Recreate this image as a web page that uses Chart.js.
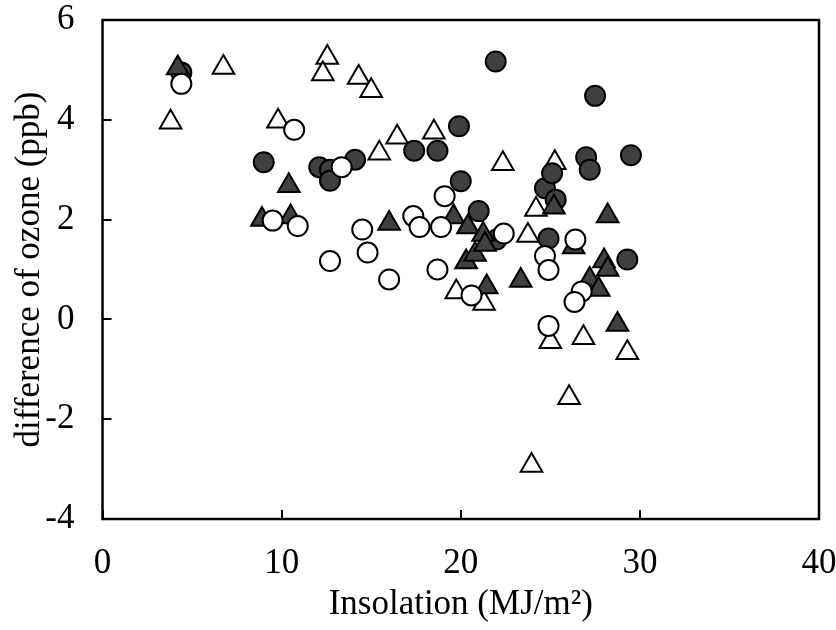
<!DOCTYPE html>
<html>
<head>
<meta charset="utf-8">
<script src="https://cdn.jsdelivr.net/npm/chart.js@4/dist/chart.umd.min.js"></script>
<style>
html,body{margin:0;padding:0;background:#fff;}
#wrap{width:836px;height:630px;}
</style>
</head>
<body>
<div id="wrap"><canvas id="c" width="836" height="630"></canvas></div>
<script>
// ---- data ----
const filledCircleX = [4.4, 9.0, 12.1, 12.7, 12.7, 14.1, 17.4, 18.7, 19.9, 20.0, 21.0, 22.0, 21.95, 24.7, 24.9, 25.1, 25.3, 27.0, 27.2, 27.5, 29.5, 29.3];
const filledCircleY = [4.95, 3.15, 3.05, 3.0, 2.78, 3.2, 3.38, 3.38, 3.87, 2.77, 2.17, 1.6, 5.17, 2.63, 1.62, 2.93, 2.4, 3.25, 3.0, 4.48, 3.29, 1.2];

const openCircleX = [4.4, 9.5, 10.7, 10.9, 12.7, 13.35, 14.5, 14.8, 16.0, 17.35, 17.7, 18.7, 18.9, 19.1, 20.6, 22.4, 24.7, 24.9, 24.9, 26.4, 26.75, 26.35];
const openCircleY = [4.72, 1.98, 3.8, 1.87, 1.17, 3.05, 1.8, 1.34, 0.8, 2.07, 1.85, 1.0, 1.85, 2.47, 0.48, 1.72, 1.27, 0.99, -0.13, 1.6, 0.56, 0.35];

const filledTriX = [4.2, 8.9, 10.4, 10.5, 16.0, 19.6, 20.4, 20.3, 20.8, 21.25, 21.35, 21.45, 23.35, 25.2, 26.3, 27.2, 27.7, 28.0, 28.2, 28.2, 28.75];
const filledTriY = [5.04, 2.0, 2.68, 2.05, 1.92, 2.05, 1.85, 1.15, 1.3, 1.7, 1.5, 0.65, 0.78, 2.25, 1.45, 0.8, 0.6, 1.17, 1.0, 2.07, -0.1];

const openTriX = [3.8, 6.75, 9.8, 12.55, 12.3, 14.3, 15.0, 15.45, 16.45, 18.5, 19.75, 21.3, 22.35, 23.75, 24.2, 25.25, 25.0, 26.85, 26.05, 23.95, 29.3];
const openTriY = [3.95, 5.05, 3.97, 5.25, 4.92, 4.85, 4.58, 3.33, 3.65, 3.75, 0.55, 0.32, 3.12, 1.68, 2.2, 3.14, -0.45, -0.37, -1.57, -2.93, -0.67];

const xTickValues = [0, 10, 20, 30, 40];
const xTickLabels = ['0', '10', '20', '30', '40'];
const yTickValues = [-4, -2, 0, 2, 4, 6];
const yTickLabels = ['-4', '-2', '0', '2', '4', '6'];

const xTitle = 'Insolation (MJ/m\u00B2)';
const yTitle = 'difference of ozone (ppb)';

// ---- build ----
function pts(xs, ys){ return xs.map((x,i)=>({x:x, y:ys[i]})); }

const FONT = '"Liberation Serif", "Times New Roman", serif';
const FS = 35;
const DARK = '#404040';

function noPad(s){ s.paddingTop = 0; s.paddingBottom = 0; s.paddingLeft = 0; s.paddingRight = 0; }

const framePlugin = {
  id: 'frame',
  beforeDatasetsDraw(chart){
    const {ctx, chartArea:a, scales} = chart;
    ctx.save();
    ctx.strokeStyle = '#000';
    ctx.lineWidth = 2;
    ctx.beginPath();
    xTickValues.forEach(v=>{
      const px = Math.round(scales.x.getPixelForValue(v));
      ctx.moveTo(px, a.bottom); ctx.lineTo(px, a.bottom - 9);
    });
    yTickValues.forEach(v=>{
      const py = Math.round(scales.y.getPixelForValue(v));
      ctx.moveTo(a.left, py); ctx.lineTo(a.left + 9, py);
    });
    ctx.stroke();
    ctx.lineWidth = 2.5;
    ctx.strokeRect(a.left, a.top, a.right - a.left, a.bottom - a.top);
    ctx.restore();
  }
};

new Chart(document.getElementById('c'), {
  type: 'scatter',
  data: {
    datasets: [
      { label: 'open circle', data: pts(openCircleX, openCircleY), pointStyle: 'circle', pointRadius: 10, backgroundColor: '#fff', borderColor: '#000', borderWidth: 2, order: 1 },
      { label: 'filled triangle', data: pts(filledTriX, filledTriY), pointStyle: 'triangle', pointRadius: 12.5, backgroundColor: DARK, borderColor: '#000', borderWidth: 2, order: 2 },
      { label: 'filled circle', data: pts(filledCircleX, filledCircleY), pointStyle: 'circle', pointRadius: 10, backgroundColor: DARK, borderColor: '#000', borderWidth: 2, order: 3 },
      { label: 'open triangle', data: pts(openTriX, openTriY), pointStyle: 'triangle', pointRadius: 12.5, backgroundColor: '#fff', borderColor: '#000', borderWidth: 2, order: 4 }
    ]
  },
  options: {
    responsive: false,
    animation: false,
    devicePixelRatio: 1,
    layout: { autoPadding: false, padding: { left: 0, right: 17, top: 20, bottom: 0 } },
    plugins: { legend: { display: false }, tooltip: { enabled: false } },
    scales: {
      x: {
        type: 'linear', min: 0, max: 40,
        afterBuildTicks(s){ s.ticks = xTickValues.map(v=>({value:v})); },
        afterFit(s){ s.height = 111; noPad(s); },
        grid: { display: true, drawOnChartArea: false, drawTicks: false, color: 'rgba(0,0,0,0)' },
        border: { display: false },
        ticks: { padding: 24, color: '#000', font: { family: FONT, size: FS }, maxRotation: 0,
                 callback(v){ const i = xTickValues.indexOf(v); return i >= 0 ? xTickLabels[i] : ''; } },
        title: { display: true, text: xTitle, color: '#000', font: { family: FONT, size: FS }, padding: { top: 4, bottom: 4 } }
      },
      y: {
        type: 'linear', min: -4, max: 6,
        afterBuildTicks(s){ s.ticks = yTickValues.map(v=>({value:v})); },
        afterFit(s){ s.width = 102.5; noPad(s); },
        grid: { display: true, drawOnChartArea: false, drawTicks: false, color: 'rgba(0,0,0,0)' },
        border: { display: false },
        ticks: { padding: 28, color: '#000', font: { family: FONT, size: FS },
                 callback(v){ const i = yTickValues.indexOf(v); return i >= 0 ? yTickLabels[i] : ''; } },
        title: { display: true, text: yTitle, color: '#000', font: { family: FONT, size: FS }, padding: { top: 9, bottom: 9 } }
      }
    }
  },
  plugins: [framePlugin]
});
</script>
</body>
</html>
